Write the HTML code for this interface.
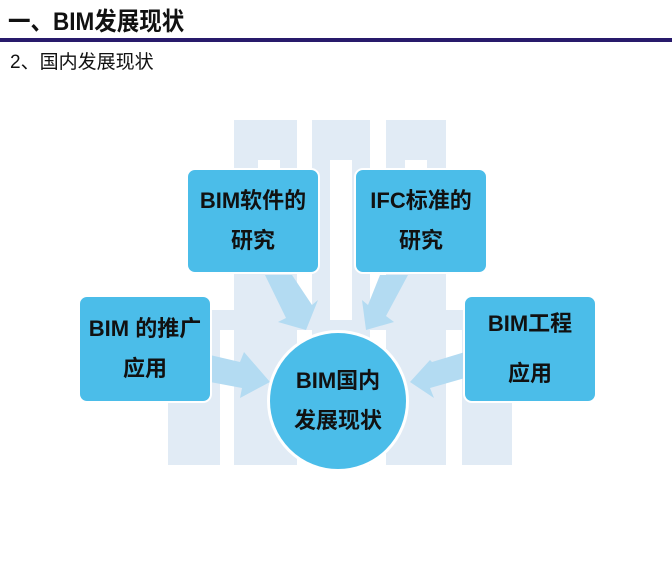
<!DOCTYPE html><html><head><style>
body{margin:0;width:672px;height:588px;background:#fff;position:relative;overflow:hidden;font-family:"Liberation Sans","Noto Sans CJK SC",sans-serif}
.h{position:absolute;left:8px;top:2px;font-size:25px;font-weight:bold;color:#111;font-family:"Liberation Sans","Noto Sans CJK SC",sans-serif;transform:scaleX(.9);transform-origin:left}
.line{position:absolute;left:0;top:38px;width:672px;height:4px;background:#281a6b}
.s{position:absolute;left:10px;top:47px;font-size:19px;color:#111}
.b{position:absolute;background:#e1ebf5}
.n{position:absolute;background:#4bbde9;border-radius:9px;border:2px solid #fff;color:#111;font-weight:bold;font-size:22px;display:flex;align-items:center;justify-content:center;text-align:center;line-height:40px}
</style></head><body>
<div class="h">一、BIM发展现状</div><div class="line"></div>
<div class="s">2、国内发展现状</div>
<div class="b" style="left:234px;top:120px;width:63px;height:345px"></div>
<div class="b" style="left:312px;top:120px;width:58px;height:345px"></div>
<div class="b" style="left:386px;top:120px;width:60px;height:345px"></div>
<div class="b" style="left:168px;top:310px;width:52px;height:155px"></div>
<div class="b" style="left:462px;top:310px;width:50px;height:155px"></div>
<div class="b" style="left:168px;top:310px;width:340px;height:20px"></div>
<div style="position:absolute;left:258px;top:160px;width:22px;height:40px;background:#fff"></div>
<div style="position:absolute;left:330px;top:160px;width:22px;height:160px;background:#fff"></div>
<div style="position:absolute;left:405px;top:160px;width:22px;height:40px;background:#fff"></div>
<svg style="position:absolute;left:0;top:0" width="672" height="588">
<g fill="#b3dbf2">
<polygon points="265,275 292,275 312,305 318,300 306,330 278,322 286,318"/>
<polygon points="380,275 408,275 386,316 394,322 366,330 362,300 368,305"/>
<polygon points="210,355 240,362 244,352 270,382 240,398 242,388 210,382"/>
<polygon points="465,352 465,378 430,388 434,398 410,382 430,360 432,362"/>
</g></svg>
<div class="n" style="left:186px;top:168px;width:130px;height:102px">BIM软件的<br>研究</div>
<div class="n" style="left:354px;top:168px;width:130px;height:102px">IFC标准的<br>研究</div>
<div class="n" style="left:78px;top:295px;width:130px;height:104px">BIM 的推广<br>应用</div>
<div class="n" style="left:463px;top:295px;width:130px;height:104px;line-height:50px">BIM工程<br>应用</div>
<div class="n" style="left:267px;top:330px;width:136px;height:136px;border-radius:50%;border-width:3px">BIM国内<br>发展现状</div>
</body></html>
